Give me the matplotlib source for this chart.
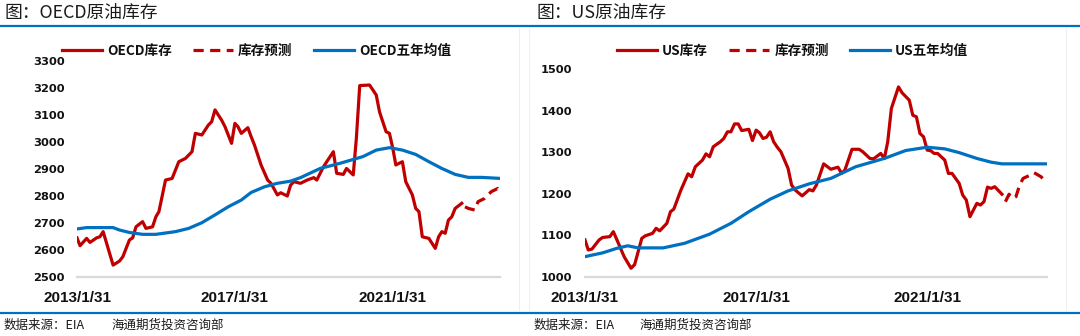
import matplotlib
matplotlib.use("Agg")
import matplotlib.pyplot as plt
import pandas as pd
from matplotlib.lines import Line2D

# ---------------- data ----------------
oecd_dates = ["2013-01","2013-02","2013-04","2013-05","2013-07","2013-08","2013-09","2013-12",
              "2014-02","2014-03","2014-05","2014-06","2014-07","2014-09","2014-10","2014-12",
              "2015-01","2015-02","2015-04","2015-06","2015-08","2015-10","2015-12",
              "2016-01","2016-03","2016-05","2016-06","2016-07","2016-09","2016-10","2016-12",
              "2017-01","2017-02","2017-03","2017-05","2017-06","2017-07","2017-09","2017-11","2017-12",
              "2018-02","2018-03","2018-05","2018-06","2018-07","2018-09","2018-11",
              "2019-01","2019-02","2019-04","2019-05","2019-07","2019-08","2019-10","2019-11",
              "2020-01","2020-02","2020-03","2020-06","2020-08","2020-09","2020-11","2020-12",
              "2021-01","2021-02","2021-04","2021-05","2021-07","2021-08","2021-09","2021-10","2021-12",
              "2022-02","2022-03","2022-04","2022-05","2022-06","2022-07","2022-08","2022-10"]
oecd_stock = [2645,2616,2643,2628,2645,2649,2668,2544,
              2559,2575,2637,2645,2686,2705,2680,2686,
              2723,2742,2859,2865,2927,2939,2964,
              3032,3026,3063,3075,3119,3081,3057,2995,
              3069,3057,3032,3053,3020,2989,2915,2859,2847,
              2804,2812,2800,2840,2853,2847,2859,
              2868,2859,2908,2927,2964,2884,2880,2902,
              2878,3014,3209,3211,3174,3112,3038,3032,
              2977,2915,2927,2853,2804,2754,2742,2649,2643,
              2606,2649,2668,2662,2711,2723,2754,2773]

oecd_fc_dates = ["2022-11","2022-12","2023-02","2023-03","2023-05","2023-07","2023-09","2023-10"]
oecd_fc = [2760,2754,2748,2779,2791,2816,2828,2813]

oecd_avg_dates = ["2013-01","2013-04","2013-12","2014-02","2014-05","2014-09","2015-01","2015-07",
                  "2015-11","2016-03","2016-07","2016-11","2017-03","2017-06","2017-10","2018-02",
                  "2018-06","2018-09","2019-03","2019-09","2020-04","2020-08","2020-12","2021-04",
                  "2021-08","2021-12","2022-04","2022-08","2022-12","2023-04","2023-10"]
oecd_avg = [2678,2683,2683,2674,2665,2658,2658,2668,
            2680,2701,2730,2760,2785,2813,2834,2847,
            2855,2868,2902,2921,2946,2970,2979,2970,
            2954,2927,2902,2880,2869,2869,2865]

us_dates = ["2013-01","2013-02","2013-03","2013-05","2013-06","2013-08","2013-09","2013-10","2013-12",
            "2014-02","2014-03","2014-05","2014-06","2014-08","2014-09","2014-10","2014-12",
            "2015-01","2015-02","2015-04","2015-06","2015-07","2015-08","2015-10","2015-11","2015-12",
            "2016-01","2016-03","2016-04","2016-05","2016-06","2016-07","2016-08","2016-09","2016-11","2016-12",
            "2017-01","2017-02","2017-03","2017-04","2017-05","2017-06","2017-07","2017-08","2017-10","2017-11","2017-12",
            "2018-02","2018-04","2018-05","2018-06","2018-08","2018-10","2018-12",
            "2019-01","2019-02","2019-04","2019-06","2019-07","2019-09","2019-10","2019-12",
            "2020-01","2020-02","2020-03","2020-05","2020-06","2020-08","2020-09","2020-10","2020-11","2020-12",
            "2021-01","2021-02","2021-03","2021-04","2021-06","2021-07","2021-08","2021-10","2021-11","2021-12",
            "2022-01","2022-03","2022-04","2022-05","2022-06","2022-07","2022-08","2022-10"]
us_stock = [1089,1065,1067,1089,1095,1097,1109,1089,1049,
            1021,1030,1093,1099,1105,1117,1111,1129,
            1157,1163,1209,1248,1241,1265,1281,1296,1289,
            1313,1325,1333,1349,1349,1368,1368,1352,1355,1328,
            1353,1347,1333,1336,1349,1325,1312,1301,1261,1221,1209,
            1195,1210,1207,1221,1272,1259,1264,
            1249,1257,1307,1307,1301,1285,1284,1297,
            1285,1325,1405,1457,1443,1425,1389,1385,1345,1337,
            1305,1304,1297,1297,1281,1249,1249,1225,1197,1185,
            1145,1177,1173,1181,1216,1213,1217,1199]

us_fc_dates = ["2022-11","2022-12","2023-01","2023-02","2023-03","2023-04","2023-06","2023-07","2023-09","2023-10"]
us_fc = [1181,1199,1189,1193,1221,1237,1245,1251,1241,1232]

us_avg_dates = ["2013-01","2013-06","2013-10","2014-01","2014-04","2014-11","2015-05","2015-12",
                "2016-06","2016-11","2017-05","2017-10","2018-04","2018-10","2019-05","2020-01",
                "2020-07","2021-01","2021-06","2021-10","2022-03","2022-07","2022-10","2023-11"]
us_avg = [1049,1058,1069,1075,1070,1070,1081,1103,
          1129,1157,1187,1207,1224,1237,1265,1285,
          1304,1312,1308,1299,1285,1276,1272,1272]

tick_dates = ["2013-01-31", "2017-01-31", "2021-01-31"]
tick_labels = ["2013/1/31", "2017/1/31", "2021/1/31"]

oecd_yticks = [2500, 2600, 2700, 2800, 2900, 3000, 3100, 3200, 3300]
us_yticks = [1000, 1100, 1200, 1300, 1400, 1500]

titles = ["图：OECD原油库存", "图：US原油库存"]
legend_oecd = ["OECD库存", "库存预测", "OECD五年均值"]
legend_us = ["US库存", "库存预测", "US五年均值"]
source_a = "数据来源：EIA"
source_b = "海通期货投资咨询部"

RED = "#C00000"
BLUE = "#0070C0"


def to_dt(lst):
    return pd.to_datetime(lst) + pd.offsets.MonthEnd(0)


W, H = 1080, 336
fig = plt.figure(figsize=(W / 100, H / 100), dpi=100)
fig.patch.set_facecolor("white")

cjk = ["Noto Sans CJK SC", "DejaVu Sans"]
lat = ["Liberation Sans", "DejaVu Sans"]
wide = ["DejaVu Sans"]


def fx(px):
    return px / W


def fy(py):
    return 1 - py / H


def make_panel(rect, d1, v1, d2, v2, d3, v3, yticks, xend, labels, leg_xy):
    ax = fig.add_axes(rect)
    l1, = ax.plot(to_dt(d1), v1, color=RED, lw=2.3, solid_joinstyle="round")
    l2, = ax.plot(to_dt(d2), v2, color=RED, lw=2.3, dashes=(3.2, 2.0))
    l3, = ax.plot(to_dt(d3), v3, color=BLUE, lw=2.3, solid_joinstyle="round")
    ax.set_xlim(pd.Timestamp("2013-01-31"), pd.Timestamp(xend))
    ax.set_ylim(yticks[0], yticks[-1])
    ax.set_yticks(yticks)
    ax.set_yticklabels([str(t) for t in yticks], fontfamily=wide, fontweight="bold", fontsize=8.2)
    ax.set_xticks(pd.to_datetime(tick_dates))
    ax.set_xticklabels(tick_labels, fontfamily=lat, fontweight="bold", fontsize=11)
    ax.tick_params(axis="both", length=0, colors="#111111")
    ax.tick_params(axis="y", pad=9)
    ax.tick_params(axis="x", pad=10)
    for s in ["top", "right", "left"]:
        ax.spines[s].set_visible(False)
    ax.spines["bottom"].set_color("#D9D9D9")
    ax.spines["bottom"].set_linewidth(1.6)
    leg = ax.legend([l1, l2, l3], labels, ncol=3, frameon=False, loc="center left",
                    bbox_to_anchor=leg_xy, bbox_transform=fig.transFigure,
                    handlelength=2.95, handletextpad=0.37, columnspacing=1.55,
                    borderpad=0, borderaxespad=0,
                    prop={"family": cjk, "weight": "bold", "size": 9.8})
    for t in leg.get_texts():
        t.set_color("#111111")
    return ax


make_panel([fx(77), fy(277), fx(423), (277 - 61) / H],
           oecd_dates, oecd_stock, oecd_fc_dates, oecd_fc, oecd_avg_dates, oecd_avg,
           oecd_yticks, "2023-10-20", legend_oecd, (fx(62), fy(51)))

make_panel([fx(585), fy(277), fx(462), (277 - 69) / H],
           us_dates, us_stock, us_fc_dates, us_fc, us_avg_dates, us_avg,
           us_yticks, "2023-11-20", legend_us, (fx(617), fy(51)))

# titles
fig.text(fx(5), fy(14), titles[0], fontfamily=cjk, fontsize=12.8, va="center", ha="left", color="#1a1a1a")
fig.text(fx(537), fy(14), titles[1], fontfamily=cjk, fontsize=12.8, va="center", ha="left", color="#1a1a1a")

# source
for x0, x1 in ((4, 112), (534, 640)):
    fig.text(fx(x0), fy(325), source_a, fontfamily=cjk, fontsize=9, va="center", ha="left", color="#1a1a1a")
    fig.text(fx(x1), fy(325), source_b, fontfamily=cjk, fontsize=9, va="center", ha="left", color="#1a1a1a")

# blue rules
for yy in (25.5, 312.5):
    fig.add_artist(Line2D([0, 1], [fy(yy), fy(yy)], transform=fig.transFigure, color=BLUE, lw=1.6))

# faint frame borders
for xx in (519, 529, 1066):
    fig.add_artist(Line2D([fx(xx), fx(xx)], [fy(28), fy(310)], transform=fig.transFigure,
                          color="#EFEFEF", lw=0.8))

fig.savefig("out.png", dpi=100, facecolor="white")
